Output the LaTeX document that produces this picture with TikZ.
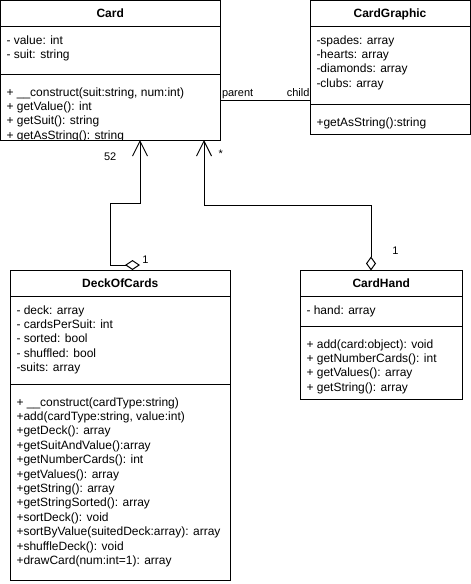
\documentclass[tikz,border=0pt]{standalone}
\usepackage{fontspec}
\setmainfont{Liberation Sans}
\usetikzlibrary{arrows.meta}
\newcommand{\umlrows}[1]{\begin{tabular}[t]{@{}l@{}}#1\end{tabular}}
\begin{document}
\begin{tikzpicture}[x=1pt,y=-1pt,line width=1pt,
  classbox/.style={draw=black,line width=1pt,inner sep=0pt,outer sep=0pt,anchor=north west},
  titletext/.style={font=\fontsize{12}{14.4}\selectfont\bfseries,anchor=base,inner sep=0pt},
  members/.style={font=\fontsize{12}{14.4}\selectfont,anchor=base west,inner sep=0pt},
  lbl/.style={font=\fontsize{11}{13.2}\selectfont,inner sep=0pt},
  sepline/.style={draw=black,line width=1pt},
  conn/.style={draw=black,line width=1pt},
  aggrA/.style={conn,{Diamond[open,length=15pt,width=10pt]}-{Straight Barb[length=15pt,width=15pt]}},
  aggrB/.style={conn,{Diamond[open,length=14pt,width=10pt]}-{Straight Barb[length=15pt,width=15pt]}}]
\useasboundingbox (0,0) rectangle (471,584);
\fill[white] (0,0) rectangle (471,584);

% ---- class boxes
\node[classbox,minimum width=219.5pt,minimum height=139.5pt] (card) at (0.5,0.5) {};
\node[classbox,minimum width=160pt,minimum height=133.5pt] (cg) at (310,0.5) {};
\node[classbox,minimum width=219.5pt,minimum height=309.5pt] (deck) at (10.5,270.5) {};
\node[classbox,minimum width=161.5pt,minimum height=128.5pt] (hand) at (300.5,270.5) {};

% ---- compartment lines
\draw[sepline] (0.5,26) -- (220,26);
\draw[sepline] (0.5,74) -- (220,74);
\draw[sepline] (310,26) -- (470,26);
\draw[sepline] (310,104) -- (470,104);
\draw[sepline] (10.5,296) -- (230,296);
\draw[sepline] (10.5,384) -- (230,384);
\draw[sepline] (300.5,296) -- (462,296);
\draw[sepline] (300.5,326) -- (462,326);

% ---- titles
\node[titletext] (cardt) at (110.25,17.5) {Card};
\node[titletext] (cgt) at (390,17.5) {CardGraphic};
\node[titletext] (deckt) at (120.25,287.5) {DeckOfCards};
\node[titletext] (handt) at (381.25,287.5) {CardHand};

% ---- members
\node[members] (carda) at (6,44) {\umlrows{- value: int\\- suit: string}};
\begin{scope}
  \clip (card.north west) rectangle (card.south east);
  \node[members] (cardm) at (6,96) {\umlrows{+ \_\_construct(suit:string, num:int)\\+ getValue(): int\\+ getSuit(): string\\+ getAsString(): string}};
\end{scope}
\node[members] (cga) at (316,44) {\umlrows{-spades: array\\-hearts: array\\-diamonds: array\\-clubs: array}};
\node[members] (cgm) at (316,126) {\umlrows{+getAsString():string}};
\node[members] (decka) at (16,314) {\umlrows{- deck: array\\- cardsPerSuit: int\\- sorted: bool\\- shuffled: bool\\-suits: array}};
\node[members] (deckm) at (16,406) {\umlrows{+ \_\_construct(cardType:string)\\+add(cardType:string, value:int)\\+getDeck(): array\\+getSuitAndValue():array\\+getNumberCards(): int\\+getValues(): array\\+getString(): array\\+getStringSorted(): array\\+sortDeck(): void\\+sortByValue(suitedDeck:array): array\\+shuffleDeck(): void\\+drawCard(num:int=1): array}};
\node[members] (handa) at (306,314) {\umlrows{- hand: array}};
\node[members] (handm) at (306,348) {\umlrows{+ add(card:object): void\\+ getNumberCards(): int\\+ getValues(): array\\+ getString(): array}};

% ---- connectors
\coordinate (pc) at (0,100);
\draw[conn] (card.east |- pc) -- (cg.west |- pc);
\node[lbl,anchor=base west] (lparent) at (221.5,96) {parent};
\node[lbl,anchor=base east] (lchild) at (310,96) {child};

\coordinate (dkdia) at (140,265);
\coordinate (dkb1) at (110,265);
\coordinate (dkb2) at (110,203);
\coordinate (dkb3) at (140,203);
\draw[aggrA] (dkdia) -- (dkb1) -- (dkb2) -- (dkb3) -- (card.south -| dkb3);
\node[lbl,anchor=base west] (l52) at (103.5,160) {52};
\node[lbl,anchor=base west] (ldk1) at (141.8,263) {1};

\coordinate (hdb1) at (371,205);
\coordinate (hdb2) at (204,205);
\draw[aggrB] (hand.north -| hdb1) -- (hdb1) -- (hdb2) -- (card.south -| hdb2);
\node[lbl,anchor=base west] (lstar) at (218,157) {*};
\node[lbl,anchor=base west] (lhd1) at (391.8,254) {1};
\end{tikzpicture}
\end{document}
